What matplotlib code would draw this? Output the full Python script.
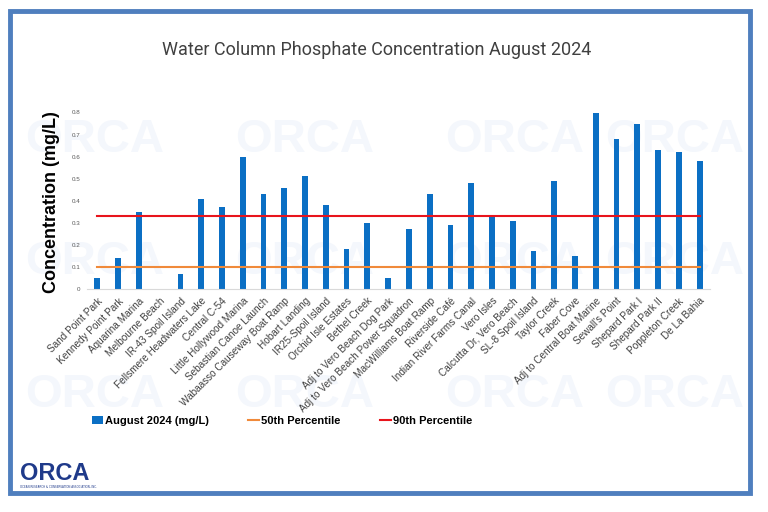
import matplotlib.pyplot as plt
from matplotlib.patches import Rectangle

sites = ["Sand Point Park", "Kennedy Point Park", "Aquarina Marina", "Melbourne Beach",
         "IR-43 Spoil Island", "Fellsmere Headwaters Lake", "Central C-54",
         "Little Hollywood Marina", "Sebastian Canoe Launch", "Wabaasso Causeway Boat Ramp",
         "Hobart Landing", "IR25-Spoil Island", "Orchid Isle Estates", "Bethel Creek",
         "Adj to Vero Beach Dog Park", "Adj to Vero Beach Power Squadron",
         "MacWilliams Boat Ramp", "Riverside Café", "Indian River Farms Canal", "Vero Isles",
         "Calcutta Dr, Vero Beach", "SL-8 Spoil Island", "Taylor Creek", "Faber Cove",
         "Adj to Central Boat Marine", "Sewall's Point", "Shepard Park I", "Shepard Park II",
         "Poppleton Creek", "De La Bahia"]
aug_2024 = [0.05, 0.14, 0.35, 0.0, 0.07, 0.41, 0.37, 0.60, 0.43, 0.46,
            0.51, 0.38, 0.18, 0.30, 0.05, 0.27, 0.43, 0.29, 0.48, 0.33,
            0.31, 0.17, 0.49, 0.15, 0.80, 0.68, 0.75, 0.63, 0.62, 0.58]
p50 = 0.10
p90 = 0.33
yticks = [0, 0.1, 0.2, 0.3, 0.4, 0.5, 0.6, 0.7, 0.8]

W, H = 768, 512
fig = plt.figure(figsize=(7.68, 5.12), dpi=100)

# faint watermark logos, drawn in a background axes so they sit behind everything
bg = fig.add_axes([0, 0, 1, 1], zorder=-1)
bg.set_xlim(0, W)
bg.set_ylim(H, 0)
bg.axis("off")
for yy in [140, 262, 395]:
    for xx in [95, 305, 515, 675]:
        bg.text(xx, yy, "ORCA", fontsize=34, fontweight="bold", color="#f4f7fc",
                ha="center", va="center", family="Liberation Sans")

# blue frame
fig.patches.append(Rectangle((10 / W, 1 - 493 / H), 740 / W, 482 / H, transform=fig.transFigure,
                             fill=False, edgecolor="#4f7fbe", linewidth=3.5, zorder=5))

ax = fig.add_axes([87 / W, 1 - 289 / H, (710 - 87) / W, (289 - 112.5) / H])
ax.patch.set_alpha(0)
x = range(len(sites))
bars = ax.bar(x, aug_2024, width=0.28, color="#0b6fc4", zorder=2)
l50, = ax.plot([0, len(sites) - 1], [p50, p50], color="#f08a3a", lw=1.5, zorder=3)
l90, = ax.plot([0, len(sites) - 1], [p90, p90], color="#e8141c", lw=1.5, zorder=3)

ax.set_xlim(-0.5, len(sites) - 0.5)
ax.set_ylim(0, 0.8)
ax.set_yticks(yticks)
ax.set_yticklabels([f"{v:g}" for v in yticks], fontsize=4.5, color="#595959", family="Liberation Sans")
ax.set_xticks(list(x))
ax.set_xticklabels(sites, rotation=45, ha="right", rotation_mode="anchor",
                   fontsize=7.2, color="#404040", family="Liberation Sans")
ax.tick_params(length=0, pad=5)
for s in ["top", "right", "left"]:
    ax.spines[s].set_visible(False)
ax.spines["bottom"].set_color("#d9d9d9")
ax.set_ylabel("Concentration (mg/L)", fontsize=13, fontweight="bold", family="Liberation Sans")
ax.yaxis.set_label_coords((60 - 87) / (710 - 87), 0.49)

fig.text(377 / W, 1 - 50 / H, "Water Column Phosphate Concentration August 2024",
         fontsize=13, color="#404040", family="Roboto", ha="center", va="center")

fig.legend([bars, l50, l90], ["August 2024 (mg/L)", "50th Percentile", "90th Percentile"],
           loc="center", bbox_to_anchor=(282 / W, 1 - 421 / H), ncol=3, frameon=False,
           prop={"family": "Liberation Sans", "weight": "bold", "size": 8},
           handlelength=1.0, handletextpad=0.2, columnspacing=3.5)

# logo
fig.text(20 / W, 1 - 474 / H, "ORCA", fontsize=17, fontweight="bold", color="#1f3a8a",
         family="Liberation Sans", ha="left", va="center")
fig.text(20 / W, 1 - 487 / H, "OCEAN RESEARCH & CONSERVATION ASSOCIATION, INC.", fontsize=2,
         color="#1f3a8a", ha="left", va="center")

fig.savefig("out.png", dpi=100)
